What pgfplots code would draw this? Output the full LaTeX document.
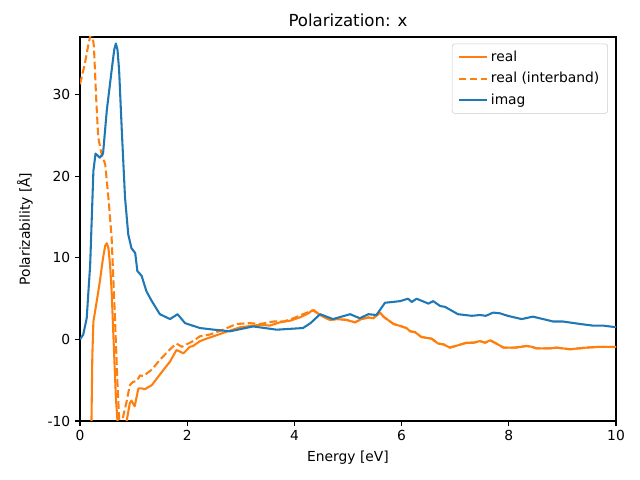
\documentclass[border=0pt]{standalone}
\usepackage{pgfplots}
\pgfplotsset{compat=1.18}
\usepackage{fontspec}
\setmainfont{DejaVu Sans}
\definecolor{cA}{HTML}{1F77B4}
\definecolor{cB}{HTML}{FF7F0E}
\begin{document}
\begin{tikzpicture}[x=1in,y=1in]
\path (0,0) rectangle (6.4,4.8);
\begin{axis}[
  at={(0.80in,0.59in)}, anchor=south west,
  scale only axis, width=5.36in, height=3.84in,
  xmin=0, xmax=10, ymin=-10, ymax=37.1,
  xtick={0,2,4,6,8,10}, ytick={-10,0,10,20,30},
  tick align=outside, major tick length=3.5pt,
  tick style={black, line width=0.8pt},
  axis line style={line width=0.8pt},
  xtick pos=bottom, ytick pos=left,
  /pgf/number format/assume math mode=true,
  ticklabel style={font=\fontsize{10}{12}\selectfont},
  xlabel={Energy [eV]}, ylabel={Polarizability [Å]},
  ylabel style={yshift=4pt},
  label style={font=\fontsize{10}{12}\selectfont},
  title={Polarization: x},
  title style={font=\fontsize{12}{14}\selectfont, yshift=-2pt},
  legend style={font=\fontsize{10}{12}\selectfont, draw=black!20, rounded corners=2pt, fill=white, fill opacity=0.8, text opacity=1, inner xsep=4pt, inner ysep=3pt, row sep=2.5pt, at={(0.985,0.983)}, anchor=north east},
  legend cell align=left,
  legend image code/.code={\draw[#1] (0cm,0cm) -- (0.72cm,0cm);},
  every axis plot/.append style={line width=1.5pt, line join=round},
]
\addplot[cB] coordinates {
(0.15,-40) (0.21,-12) (0.23,-2) (0.25,2.2) (0.28,3.4) (0.32,5.0) (0.37,7.1) (0.43,10.0) (0.47,11.5) (0.50,11.8)
(0.53,11.2) (0.56,9.2) (0.59,6.0) (0.62,1.0) (0.67,-7.2) (0.72,-12) (0.78,-14) (0.84,-12) (0.87,-10)
(0.93,-7.8) (0.96,-7.5) (1.02,-8.2) (1.09,-6.0) (1.15,-6.0) (1.21,-6.1) (1.34,-5.6) (1.49,-4.3) (1.68,-2.7)
(1.80,-1.3) (1.87,-1.5) (1.93,-1.7) (2.05,-0.9) (2.11,-0.8) (2.24,-0.2) (2.36,0.1) (2.67,0.8) (2.99,1.5)
(3.36,1.8) (3.54,1.7) (3.73,2.1) (3.92,2.3) (4.10,2.7) (4.26,3.2) (4.34,3.6) (4.48,3.0) (4.66,2.4) (4.79,2.5)
(4.97,2.4) (5.13,2.1) (5.25,2.5) (5.38,2.7) (5.47,2.6) (5.60,3.3) (5.66,2.8) (5.85,1.9) (6.00,1.6) (6.09,1.4)
(6.16,1.0) (6.25,0.9) (6.37,0.3) (6.56,0.1) (6.68,-0.5) (6.78,-0.6) (6.90,-1.0) (7.06,-0.7) (7.21,-0.4)
(7.34,-0.4) (7.46,-0.2) (7.56,-0.4) (7.65,-0.1) (7.74,-0.4) (7.90,-1.0) (8.12,-1.0) (8.33,-0.8) (8.43,-0.9)
(8.52,-1.1) (8.77,-1.1) (8.89,-1.0) (9.14,-1.2) (9.45,-1.0) (9.70,-0.9) (10.0,-0.9)
};
\addlegendentry{real}
\addplot[cB, dash pattern=on 5.55pt off 2.4pt] coordinates {
(0.00,31.3) (0.09,33.8) (0.16,36.3) (0.22,38.0) (0.26,35.9) (0.30,29.8) (0.34,24.8) (0.40,22.8) (0.47,21.5)
(0.53,17.4) (0.59,12.5) (0.65,3.0) (0.70,-5.6) (0.73,-9.7) (0.77,-10.6) (0.81,-9.3) (0.87,-7.6) (0.93,-5.6)
(0.99,-5.2) (1.06,-5.1) (1.12,-4.4) (1.18,-4.5) (1.34,-3.7) (1.49,-2.5) (1.68,-1.2) (1.80,-0.5) (1.90,-0.9)
(2.05,-0.4) (2.11,-0.2) (2.24,0.4) (2.42,0.6) (2.67,1.2) (2.92,1.9) (3.17,2.0) (3.36,1.9) (3.61,2.2) (3.80,2.2)
(3.98,2.6) (4.16,3.1) (4.32,3.5) (4.36,3.6) (4.48,3.0) (4.66,2.4) (4.79,2.5)
(4.97,2.4) (5.13,2.1) (5.25,2.5) (5.38,2.7) (5.47,2.6) (5.60,3.3) (5.66,2.8) (5.85,1.9) (6.00,1.6) (6.09,1.4)
(6.16,1.0) (6.25,0.9) (6.37,0.3) (6.56,0.1) (6.68,-0.5) (6.78,-0.6) (6.90,-1.0) (7.06,-0.7) (7.21,-0.4)
(7.34,-0.4) (7.46,-0.2) (7.56,-0.4) (7.65,-0.1) (7.74,-0.4) (7.90,-1.0) (8.12,-1.0) (8.33,-0.8) (8.43,-0.9)
(8.52,-1.1) (8.77,-1.1) (8.89,-1.0) (9.14,-1.2) (9.45,-1.0) (9.70,-0.9) (10.0,-0.9)
};
\addlegendentry{real (interband)}
\addplot[cA] coordinates {
(0.00,0.0) (0.06,0.6) (0.125,2.6) (0.19,9.2) (0.25,20.7) (0.29,22.8) (0.37,22.3) (0.43,22.8) (0.50,28.1)
(0.59,33.0) (0.64,35.6) (0.67,36.3) (0.70,35.5) (0.73,33.0) (0.78,25.6) (0.84,17.4) (0.90,12.9) (0.96,11.2) (1.03,10.6) (1.07,8.4)
(1.15,7.8) (1.24,5.9) (1.34,4.7) (1.49,3.1) (1.68,2.5) (1.82,3.1) (1.96,2.0) (2.24,1.4) (2.50,1.2) (2.80,1.0)
(3.23,1.6) (3.67,1.2) (4.16,1.4) (4.30,2.0) (4.48,3.1) (4.72,2.5) (5.04,3.1) (5.22,2.6) (5.38,3.1) (5.53,3.0)
(5.69,4.5) (5.97,4.7) (6.12,5.0) (6.19,4.6) (6.28,5.0) (6.50,4.4) (6.59,4.7) (6.72,4.1) (6.81,4.0) (7.05,3.1)
(7.31,2.9) (7.46,3.0) (7.57,2.9) (7.71,3.3) (7.84,3.2) (7.98,2.9) (8.24,2.5) (8.45,2.8) (8.83,2.2) (9.01,2.2)
(9.33,1.9) (9.57,1.7) (9.76,1.7) (10.0,1.5)
};
\addlegendentry{imag}
\end{axis}
\end{tikzpicture}
\end{document}
